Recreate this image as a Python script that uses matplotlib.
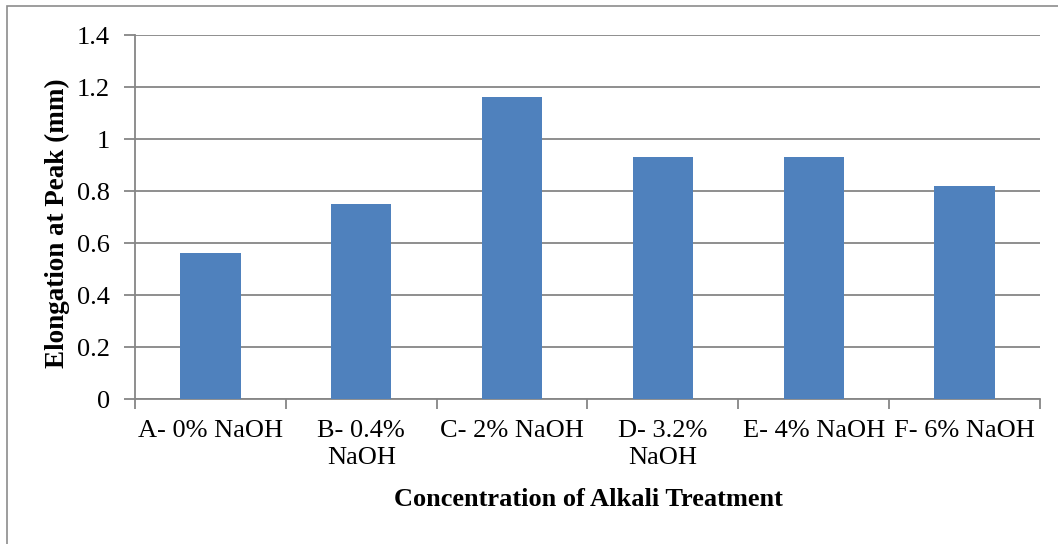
import matplotlib.pyplot as plt
import numpy as np
from matplotlib.patches import Rectangle

plt.rcParams['font.family'] = ['Liberation Serif', 'DejaVu Serif']

# Elongation at peak for each alkali treatment
categorias = ['A- 0% NaOH', 'B- 0.4%\nNaOH', 'C- 2% NaOH',
              'D- 3.2%\nNaOH', 'E- 4% NaOH', 'F- 6% NaOH']
alongamento = [0.56, 0.75, 1.16, 0.93, 0.93, 0.82]
yticks = [0, 0.2, 0.4, 0.6, 0.8, 1, 1.2, 1.4]
ytick_labels = ['0', '0.2', '0.4', '0.6', '0.8', '1', '1.2', '1.4']

cor_barra = '#4F81BD'
cor_grade = '#868686'

fig = plt.figure(figsize=(10.58, 5.44), dpi=100)
ax = fig.add_axes([135 / 1058, 1 - 399 / 544, 905 / 1058, 364 / 544])

# moldura externa do grafico
fig.patches.append(Rectangle((7 / 1058, -0.05), 1.1, 1 - 6 / 544 + 0.05,
                             transform=fig.transFigure, fill=False,
                             edgecolor='#8c8c8c', linewidth=1.2))

x = np.arange(len(categorias))
ax.bar(x, alongamento, width=0.4, color=cor_barra, zorder=3)

ax.set_xlim(-0.5, len(categorias) - 0.5)
ax.set_ylim(0, 1.4)
ax.set_yticks(yticks)
ax.set_yticklabels(ytick_labels)
ax.set_xticks(x)
ax.set_xticklabels(categorias, linespacing=1.3)
ax.set_xticks(np.arange(len(categorias) + 1) - 0.5, minor=True)

ax.grid(axis='y', color=cor_grade, linewidth=1.3, zorder=0)
ax.tick_params(axis='x', which='major', length=0, pad=15, labelsize=19)
ax.tick_params(axis='x', which='minor', length=7, width=1.3, color=cor_grade)
ax.tick_params(axis='y', length=8, width=1.3, color=cor_grade, pad=10, labelsize=19)

for lado in ['top', 'right']:
    ax.spines[lado].set_visible(False)
for lado in ['left', 'bottom']:
    ax.spines[lado].set_color(cor_grade)
    ax.spines[lado].set_linewidth(1.3)

fig.text(588 / 1058, 1 - 499 / 544, 'Concentration of Alkali Treatment',
         ha='center', va='center', fontsize=19, fontweight='bold')
fig.text(57 / 1058, 1 - 223 / 544, 'Elongation at Peak (mm)', rotation=90,
         ha='center', va='center', fontsize=19.5, fontweight='bold')

fig.savefig('out.png', dpi=100)
